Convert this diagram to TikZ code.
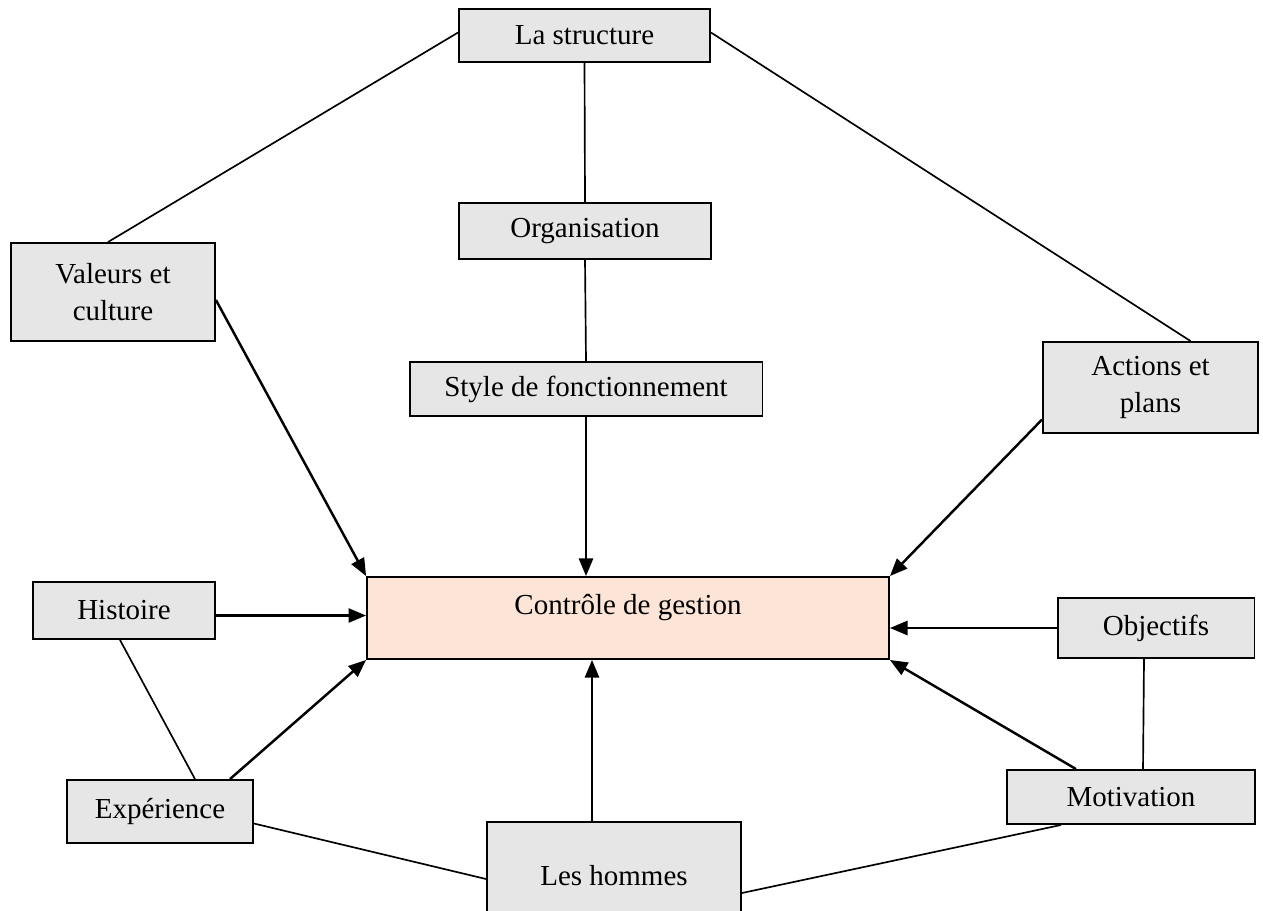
\documentclass[tikz,border=0pt]{standalone}
\usepackage{fontspec}
\setmainfont{Liberation Serif}
\usetikzlibrary{arrows.meta,calc}
\definecolor{boxgray}{HTML}{E6E6E6}
\definecolor{peach}{HTML}{FCE4D6}
\begin{document}
\begin{tikzpicture}[x=0.02cm,y=-0.02cm,
  every node/.style={font=\fontsize{16.5}{21}\selectfont},
  factor/.style={draw=black,line width=1.1pt,fill=boxgray,inner sep=0pt,align=center},
  core/.style={draw=black,line width=1.1pt,fill=peach,inner xsep=0pt,inner ysep=0pt,
               text height=21pt,text depth=25pt},
  link/.style={line width=0.95pt},
  flow/.style={line width=1.4pt,-{Triangle[length=10pt,width=8pt]}}]
\useasboundingbox (0,0) rectangle (1263,910);
\clip (0,0) rectangle (1263,910);

% factor boxes
\node[factor,minimum width=5.02cm,minimum height=1.06cm] (struct) at (584.5,35.5) {La structure};
\node[factor,minimum width=5.04cm,minimum height=1.12cm] (org) at (585,231) {Organisation};
\node[factor,minimum width=7.06cm,minimum height=1.08cm] (style) at (586,389) {Style de fonctionnement};
\node[factor,minimum width=4.08cm,minimum height=1.96cm] (valeurs) at (113,292) {Valeurs et\\culture};
\node[factor,minimum width=4.30cm,minimum height=1.82cm] (actions) at (1150.5,387.5) {Actions et\\plans};
\node[factor,minimum width=3.64cm,minimum height=1.14cm] (histoire) at (124,610.5) {Histoire};
\node[factor,minimum width=3.94cm,minimum height=1.20cm] (objectifs) at (1156,628) {Objectifs};
\node[factor,minimum width=3.72cm,minimum height=1.26cm] (experience) at (160,811.5) {Expérience};
\node[factor,minimum width=4.96cm,minimum height=1.08cm] (motivation) at (1131,797) {Motivation};
% bottom box runs past the lower edge of the page
\node[factor,minimum width=5.08cm,inner ysep=0pt,text height=36pt,text depth=21pt,anchor=north] (hommes) at (614,821) {Les hommes};

% central box
\node[core,minimum width=10.44cm,minimum height=1.64cm] (ctrl) at (628,618) {Contrôle de gestion};

% plain links
\draw[link] ($(struct.west)+(0,-3)$) -- ($(valeurs.north)+(-5,0)$);
\draw[link] ($(struct.east)+(0,-3)$) -- ($(actions.north)+(40,0)$);
\draw[link] (struct.south) -- (org.north);
\draw[link] (org.south) -- (style.north);
\draw[link] ($(histoire.south)+(-4,0)$) -- ($(experience.north)+(35,0)$);
\draw[link] ($(experience.east)+(0,12)$) -- ($(hommes.north west)+(0,58)$);
\draw[link] ($(hommes.north east)+(0,72)$) -- ($(motivation.south)+(-70,0)$);
\draw[link] ($(objectifs.south)+(-12,0)$) -- ($(motivation.north)+(12,0)$);

% influences on the central box
\draw[flow] (style.south) -- (ctrl.north -| style.south);
\draw[flow] ($(valeurs.east)+(0,8)$) -- (ctrl.north west);
\draw[flow] ($(actions.west)+(0,32)$) -- (ctrl.north east);
\draw[flow] ($(histoire.east)+(0,5)$) -- (ctrl.west |- {$(histoire.east)+(0,5)$});
\draw[flow] (objectifs.west) -- (ctrl.east |- objectifs.west);
\draw[flow] ($(experience.north)+(70,0)$) -- (ctrl.south west);
\draw[flow] ($(motivation.north)+(-55,0)$) -- (ctrl.south east);
\draw[flow] ($(hommes.north)+(-22,0)$) -- (ctrl.south -| {$(hommes.north)+(-22,0)$});
\end{tikzpicture}
\end{document}
